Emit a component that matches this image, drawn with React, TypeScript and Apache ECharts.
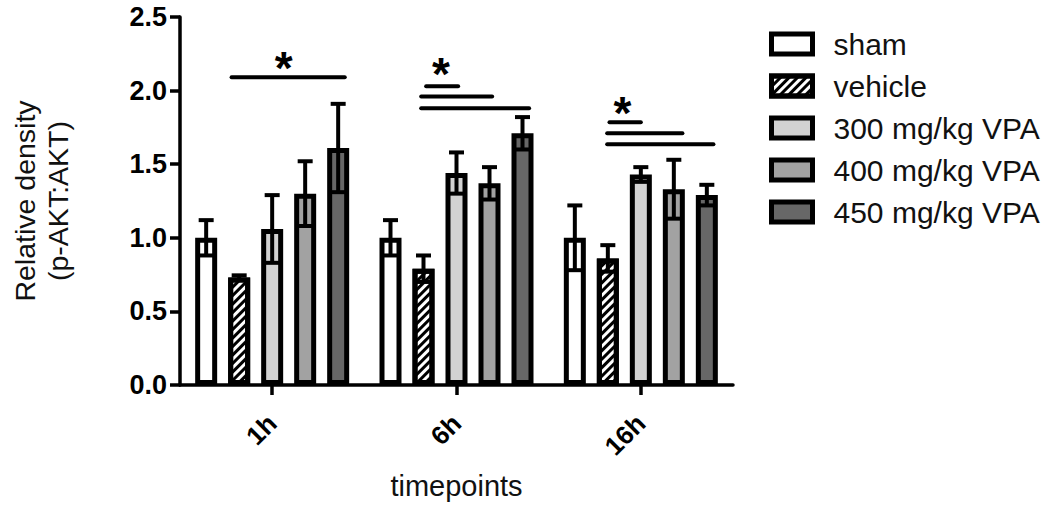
import { useEffect, useRef } from 'react';
import * as echarts from 'echarts';

const categories = ['1h', '6h', '16h'];
const seriesNames = ['sham', 'vehicle', '300 mg/kg VPA', '400 mg/kg VPA', '450 mg/kg VPA'];

const sham = [1.0, 1.0, 1.0];
const shamErr = [0.12, 0.12, 0.22];
const vehicle = [0.73, 0.79, 0.86];
const vehicleErr = [0.015, 0.09, 0.09];
const vpa300 = [1.06, 1.44, 1.43];
const vpa300Err = [0.23, 0.14, 0.05];
const vpa400 = [1.3, 1.37, 1.33];
const vpa400Err = [0.22, 0.11, 0.2];
const vpa450 = [1.61, 1.71, 1.29];
const vpa450Err = [0.3, 0.11, 0.07];

const means = [sham, vehicle, vpa300, vpa400, vpa450];
const errs = [shamErr, vehicleErr, vpa300Err, vpa400Err, vpa450Err];
const fills = ['#ffffff', '#ffffff', '#d2d2d2', '#a2a2a2', '#676767'];

// significance bars: category index, height, start/end in bar-slot units (0 = sham ... 4 = 450)
const sigCat = [0, 1, 1, 1, 2, 2, 2];
const sigY = [2.09, 2.03, 1.96, 1.88, 1.785, 1.71, 1.635];
const sigFrom = [0.77, 1.08, 0.93, 0.93, 1.05, 0.98, 0.98];
const sigTo = [4.2, 2.05, 3.08, 4.2, 2.0, 3.26, 4.2];
// stars: category index, slot position, height
const starCat = [0, 1, 2];
const starPos = [2.35, 1.53, 1.44];
const starY = [2.155, 2.115, 1.845];

const yMin = 0;
const yMax = 2.5;
const yStep = 0.5;

const FONT = '"Liberation Sans", Arial, Helvetica, sans-serif';
const BAR_W = 22;
const BAR_GAP = 0.5;
const PITCH = BAR_W * (1 + BAR_GAP);

export default function App() {
  const ref = useRef<HTMLDivElement>(null);
  useEffect(() => {
    if (!ref.current) return;
    const chart = echarts.init(ref.current, null, { renderer: 'svg' });

    const barSeries = seriesNames.map((name, s) => ({
      name,
      type: 'bar',
      data: means[s],
      barWidth: BAR_W,
      barGap: `${BAR_GAP * 100}%`,
      itemStyle: {
        color: fills[s],
        borderColor: '#000',
        borderWidth: 5,
        ...(s === 1
          ? {
              decal: {
                symbol: 'rect',
                symbolSize: 1,
                color: '#000',
                backgroundColor: '#ffffff',
                dashArrayX: [1, 0],
                dashArrayY: [2.5, 2.5],
                rotation: -Math.PI / 4,
              },
            }
          : {}),
      },
      z: 2,
    }));

    const errData: number[][] = [];
    means.forEach((arr, s) => arr.forEach((v, c) => errData.push([c, v, errs[s][c], s])));

    const sigData = sigCat.map((c, i) => [c, sigY[i], sigFrom[i], sigTo[i]]);
    const starData = starCat.map((c, i) => [c, starY[i], starPos[i]]);

    const option: any = {
      animation: false,
      backgroundColor: '#ffffff',
      textStyle: { fontFamily: FONT },
      grid: { left: 178, right: 317, top: 17, bottom: 118, containLabel: false },
      legend: {
        data: seriesNames,
        orient: 'vertical',
        left: 764,
        top: 24,
        icon: 'rect',
        itemWidth: 41,
        itemHeight: 20,
        itemGap: 12,
        itemStyle: { borderColor: '#000', borderWidth: 5 },
        textStyle: { fontFamily: FONT, fontSize: 30, lineHeight: 30, color: '#111', padding: [0, 0, 0, 16] },
      },
      xAxis: {
        type: 'category',
        data: categories,
        axisLine: { lineStyle: { color: '#000', width: 3.5 } },
        axisTick: { show: true, alignWithLabel: true, length: 10, lineStyle: { color: '#000', width: 3.5 } },
        axisLabel: {
          rotate: 45,
          margin: 34,
          fontFamily: FONT,
          fontSize: 26,
          fontWeight: 'bold',
          color: '#000',
        },
        name: 'timepoints',
        nameLocation: 'middle',
        nameGap: 86,
        nameTextStyle: { fontFamily: FONT, fontSize: 29, color: '#111' },
      },
      yAxis: {
        type: 'value',
        min: yMin,
        max: yMax,
        interval: yStep,
        axisLine: { show: true, lineStyle: { color: '#000', width: 3.5 } },
        axisTick: { show: true, length: 10, lineStyle: { color: '#000', width: 3.5 } },
        splitLine: { show: false },
        axisLabel: {
          margin: 13,
          fontFamily: FONT,
          fontSize: 27,
          fontWeight: 'bold',
          color: '#000',
          formatter: (v: number) => v.toFixed(1),
        },
        name: 'Relative density\n(p-AKT:AKT)',
        nameLocation: 'middle',
        nameGap: 106,
        nameTextStyle: { fontFamily: FONT, fontSize: 28.5, lineHeight: 33, color: '#111', align: 'center' },
      },
      series: [
        ...barSeries,
        {
          type: 'custom',
          name: 'err',
          data: errData,
          encode: { x: 0, y: 1 },
          z: 5,
          silent: true,
          renderItem: (_p: any, api: any) => {
            const c = api.value(0);
            const v = api.value(1);
            const e = api.value(2);
            const s = api.value(3);
            const top = api.coord([c, v + e]);
            const bot = api.coord([c, v - e]);
            const x = top[0] + (s - 2) * PITCH;
            const st = { stroke: '#000', lineWidth: 4 };
            return {
              type: 'group',
              children: [
                { type: 'line', shape: { x1: x, y1: top[1], x2: x, y2: bot[1] }, style: st },
                { type: 'line', shape: { x1: x - 7.5, y1: top[1], x2: x + 7.5, y2: top[1] }, style: st },
                { type: 'line', shape: { x1: x - 7.5, y1: bot[1], x2: x + 7.5, y2: bot[1] }, style: st },
              ],
            };
          },
        },
        {
          type: 'custom',
          name: 'sig',
          data: sigData,
          encode: { x: 0, y: 1 },
          z: 5,
          silent: true,
          renderItem: (_p: any, api: any) => {
            const c = api.value(0);
            const y = api.value(1);
            const p = api.coord([c, y]);
            const x1 = p[0] + (api.value(2) - 2) * PITCH;
            const x2 = p[0] + (api.value(3) - 2) * PITCH;
            return {
              type: 'line',
              shape: { x1, y1: p[1], x2, y2: p[1] },
              style: { stroke: '#000', lineWidth: 4, lineCap: 'round' },
            };
          },
        },
        {
          type: 'custom',
          name: 'star',
          data: starData,
          encode: { x: 0, y: 1 },
          z: 5,
          silent: true,
          renderItem: (_p: any, api: any) => {
            const p = api.coord([api.value(0), api.value(1)]);
            const x = p[0] + (api.value(2) - 2) * PITCH;
            return {
              type: 'text',
              x,
              y: p[1],
              style: {
                text: '*',
                fontFamily: FONT,
                fontSize: 46,
                fontWeight: 'bold',
                fill: '#000',
                align: 'center',
                verticalAlign: 'middle',
              },
            };
          },
        },
      ],
    };
    chart.setOption(option);
    return () => chart.dispose();
  }, []);
  return (
    <div
      ref={ref}
      style={{ position: 'absolute', left: 0, top: 0, width: 1050, height: 505 }}
    />
  );
}
